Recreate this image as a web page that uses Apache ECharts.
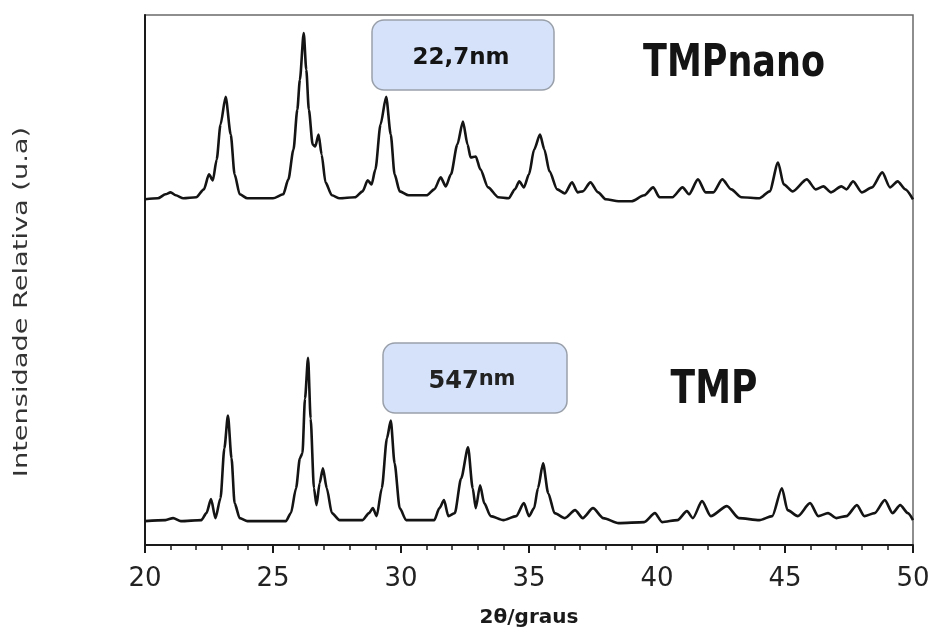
<!DOCTYPE html>
<html>
<head>
<meta charset="utf-8">
<title>DRX TMP / TMPnano</title>
<script src="https://cdn.jsdelivr.net/npm/echarts@6/dist/echarts.min.js"></script>
<style>
  html, body { margin: 0; padding: 0; background: #fff; }
  #chart { width: 935px; height: 633px; }
</style>
</head>
<body>
<div id="chart"></div>
<script>
// Diffraction patterns: 2θ (graus) and intensity above each pattern's own baseline (u.a.)
const nanoAngles = [20.0, 20.5, 20.8, 21.0, 21.2, 21.5, 22.0, 22.3, 22.5, 22.65, 22.8, 22.95, 23.15, 23.35, 23.5, 23.7, 24.0, 25.0, 25.4, 25.6, 25.8, 25.95, 26.05, 26.2, 26.3, 26.4, 26.55, 26.65, 26.78, 26.9, 27.05, 27.3, 27.6, 28.2, 28.5, 28.7, 28.85, 29.0, 29.2, 29.42, 29.6, 29.75, 29.95, 30.3, 31.0, 31.3, 31.55, 31.75, 31.95, 32.2, 32.42, 32.6, 32.72, 32.92, 33.1, 33.4, 33.8, 34.2, 34.45, 34.62, 34.8, 35.0, 35.2, 35.43, 35.6, 35.8, 36.1, 36.4, 36.68, 36.9, 37.1, 37.4, 37.7, 38.0, 38.5, 39.0, 39.5, 39.85, 40.1, 40.6, 41.0, 41.25, 41.6, 41.9, 42.2, 42.55, 42.9, 43.3, 44.0, 44.4, 44.73, 44.95, 45.3, 45.85, 46.2, 46.5, 46.8, 47.2, 47.4, 47.66, 48.0, 48.4, 48.8, 49.1, 49.4, 49.7, 50.0];
const nanoCounts = [0, 1, 5, 7, 4, 1, 2, 10, 25, 19, 40, 75, 103, 65, 25, 5, 1, 1, 5, 20, 50, 90, 120, 167, 130, 90, 55, 53, 65, 45, 17, 4, 1, 2, 8, 19, 15, 30, 75, 103, 65, 25, 8, 4, 4, 10, 22, 13, 25, 55, 78, 55, 42, 43, 30, 12, 2, 1, 10, 18, 12, 25, 50, 65, 50, 28, 10, 6, 17, 7, 8, 17, 7, 0, -2, -2, 4, 12, 2, 2, 12, 5, 20, 7, 7, 20, 10, 2, 1, 8, 37, 15, 8, 20, 10, 13, 7, 13, 10, 18, 7, 12, 27, 12, 18, 10, 0];

const bulkAngles = [20.0, 20.8, 21.1, 21.4, 22.2, 22.4, 22.58, 22.75, 22.95, 23.1, 23.24, 23.38, 23.5, 23.7, 24.0, 25.5, 25.7, 25.9, 26.05, 26.15, 26.25, 26.37, 26.47, 26.6, 26.7, 26.82, 26.95, 27.1, 27.3, 27.6, 28.5, 28.75, 28.9, 29.05, 29.25, 29.45, 29.6, 29.75, 29.95, 30.2, 31.3, 31.5, 31.68, 31.85, 32.1, 32.35, 32.62, 32.8, 32.92, 33.09, 33.25, 33.5, 34.0, 34.5, 34.8, 35.0, 35.2, 35.35, 35.55, 35.75, 36.0, 36.4, 36.8, 37.1, 37.5, 37.9, 38.5, 39.5, 39.92, 40.2, 40.8, 41.17, 41.4, 41.76, 42.1, 42.73, 43.2, 44.0, 44.5, 44.88, 45.1, 45.5, 45.98, 46.3, 46.68, 47.0, 47.4, 47.81, 48.1, 48.5, 48.9, 49.2, 49.5, 49.8, 50.0];
const bulkCounts = [0, 1, 3, 0, 1, 8, 22, 3, 23, 73, 106, 63, 18, 3, 0, 0, 8, 33, 63, 68, 123, 164, 103, 33, 16, 38, 53, 33, 8, 1, 1, 8, 13, 5, 33, 83, 101, 58, 13, 1, 1, 13, 21, 5, 8, 43, 74, 33, 13, 36, 18, 5, 1, 5, 18, 5, 13, 33, 58, 28, 8, 3, 11, 3, 13, 3, -2, -1, 8, -1, 1, 10, 3, 20, 5, 15, 3, 1, 5, 33, 11, 5, 18, 5, 8, 3, 5, 16, 5, 8, 21, 8, 16, 8, 1];

// Vertical stacking of the two patterns
const nanoOffset = 347;
const bulkOffset = 24;

const xTicks = [20, 25, 30, 35, 40, 45, 50];
const sampleNames = ['TMPnano', 'TMP'];
const crystalSizes = ['22,7', '547'];

function stacked(angles, counts, offset) {
  return angles.map((a, i) => [a, counts[i] + offset]);
}

const chart = echarts.init(document.getElementById('chart'), null, { renderer: 'canvas' });

const boldFont = '"DejaVu Sans", "Noto Sans", sans-serif';

function label(text, x, y, size, opts) {
  return Object.assign({
    type: 'text', x: x, y: y, z: 10,
    style: {
      text: text, x: 0, y: 0,
      align: 'center', verticalAlign: 'middle',
      textAlign: 'center', textVerticalAlign: 'middle',
      fontFamily: boldFont, fontWeight: 'bold', fontSize: size, fill: '#141414'
    }
  }, opts || {});
}

chart.setOption({
  animation: false,
  backgroundColor: '#ffffff',
  grid: {
    left: 145, right: 22, top: 15, bottom: 86,
    show: true, borderColor: '#6a6a6a', borderWidth: 1.5, backgroundColor: 'transparent'
  },
  xAxis: {
    type: 'value',
    min: xTicks[0],
    max: xTicks[xTicks.length - 1],
    interval: 5,
    name: '2θ/graus',
    nameLocation: 'middle',
    nameGap: 63,
    nameTextStyle: { fontFamily: boldFont, fontWeight: 'bold', fontSize: 20, color: '#1a1a1a' },
    axisLine: { show: true, lineStyle: { color: '#1a1a1a', width: 2 } },
    axisTick: { show: true, inside: false, length: 8, lineStyle: { color: '#1a1a1a', width: 2 } },
    minorTick: { show: true, splitNumber: 5, length: 5, lineStyle: { color: '#1a1a1a', width: 1.5 } },
    axisLabel: { fontFamily: '"DejaVu Sans", sans-serif', fontSize: 26, color: '#222', margin: 21 },
    splitLine: { show: false }
  },
  yAxis: {
    type: 'value',
    min: 0,
    max: 532,
    axisLine: { show: true, lineStyle: { color: '#1a1a1a', width: 2 } },
    axisTick: { show: false },
    axisLabel: { show: false },
    splitLine: { show: false }
  },
  series: [
    {
      name: sampleNames[0],
      type: 'line',
      data: stacked(nanoAngles, nanoCounts, nanoOffset),
      showSymbol: false,
      smooth: 0.25,
      smoothMonotone: 'x',
      lineStyle: { color: '#141414', width: 2.6 }
    },
    {
      name: sampleNames[1],
      type: 'line',
      data: stacked(bulkAngles, bulkCounts, bulkOffset),
      showSymbol: false,
      smooth: 0.25,
      smoothMonotone: 'x',
      lineStyle: { color: '#141414', width: 2.6 }
    }
  ],
  graphic: [
    // y-axis title, reading bottom to top
    {
      type: 'text', x: 22, y: 302, rotation: Math.PI / 2, scaleX: 1.36,
      style: {
        text: 'Intensidade Relativa (u.a)', x: 0, y: 0,
        align: 'center', verticalAlign: 'middle',
        textAlign: 'center', textVerticalAlign: 'middle',
        fontFamily: '"DejaVu Sans", sans-serif', fontSize: 20, fill: '#333'
      }
    },
    // crystallite size boxes
    {
      type: 'rect', x: 372, y: 20,
      shape: { x: 0, y: 0, width: 182, height: 70, r: 12 },
      style: { fill: '#d5e2f9', stroke: '#9aa0aa', lineWidth: 1.5 }
    },
    label(crystalSizes[0] + 'nm', 461, 58, 23, {}),
    {
      type: 'rect', x: 383, y: 343,
      shape: { x: 0, y: 0, width: 184, height: 70, r: 12 },
      style: { fill: '#d5e2f9', stroke: '#9aa0aa', lineWidth: 1.5 }
    },
    {
      type: 'text', x: 472, y: 382, z: 10,
      style: {
        text: '{n|' + crystalSizes[1] + '}{u|nm}', x: 0, y: 0,
        align: 'center', verticalAlign: 'middle',
        textAlign: 'center', textVerticalAlign: 'middle',
        rich: {
          n: { fontFamily: boldFont, fontWeight: 'bold', fontSize: 24, fill: '#222' },
          u: { fontFamily: boldFont, fontWeight: 'bold', fontSize: 21, fill: '#222', padding: [0, 0, 5, 0] }
        }
      }
    },
    // sample names
    label(sampleNames[0], 734, 64, 35, { scaleY: 1.27 }),
    label(sampleNames[1], 714, 391, 36, { scaleY: 1.27 })
  ]
});
</script>
</body>
</html>
